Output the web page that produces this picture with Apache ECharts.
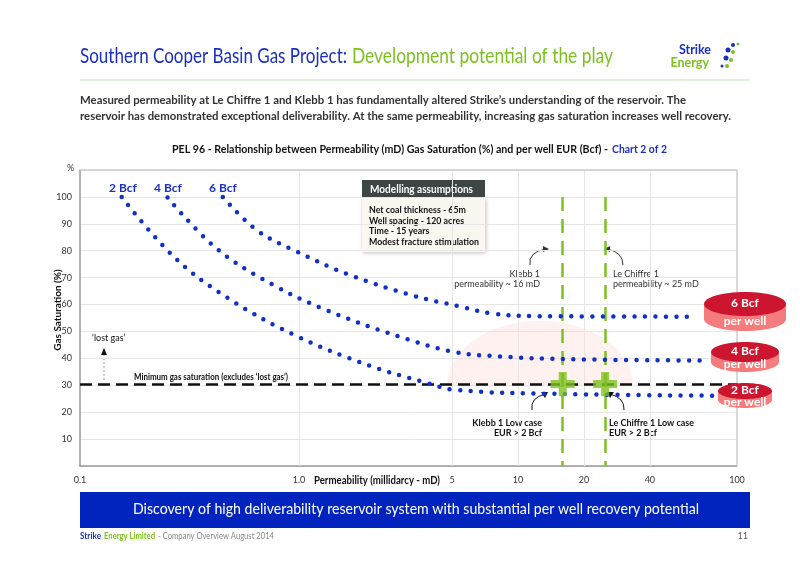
<!DOCTYPE html>
<html>
<head>
<meta charset="utf-8">
<script src="https://cdn.jsdelivr.net/npm/echarts@6/dist/echarts.min.js"></script>
<style>
  body { margin: 0; background: #fff; }
  #main { width: 800px; height: 566px; }
</style>
</head>
<body>
<div id="main"></div>
<script>
// curve key points: [permeability mD, gas saturation %]
const bcf2 = [[0.155, 100], [0.268, 77.8], [0.472, 62.5], [0.98, 48.2], [2.1, 37.3], [3.68, 31.3], [5.17, 28.3], [15, 26.8], [92, 26.1]];
const bcf4 = [[0.251, 99.8], [0.417, 81.1], [0.75, 67.6], [1.31, 58.2], [2.89, 48.0], [5.17, 42.3], [8.37, 40.7], [16.7, 39.7], [73, 39.2]];
const bcf6 = [[0.449, 100], [0.643, 87.6], [0.976, 79.7], [1.69, 71.1], [3.36, 63.2], [5.36, 59.4], [7.6, 56.7], [12.2, 55.7], [65, 55.5]];
const xTicks = [0.1, 1, 5, 10, 20, 40, 100];
const wells = [16, 25];          // Klebb 1, Le Chiffre 1
const minSat = 30.5;

const ff = 'Lato, "Open Sans", sans-serif';
const blue = '#1a2fc4';
const green = '#7dc11f';

const ctx = document.createElement('canvas').getContext('2d');
function fnt(size, bold) { return (bold ? 'bold ' : '') + size + 'px ' + ff; }

// text squeezed horizontally to the width it takes in the slide
function txt(x, y, text, size, color, bold, extra, width) {
  const el = { type: 'text', x: x, y: y, originX: 0,
    style: Object.assign({ text: text, fill: color, font: fnt(size, bold) }, extra || {}) };
  if (width) {
    ctx.font = fnt(size, bold);
    const w = Math.max(...text.split('\n').map(t => ctx.measureText(t).width));
    el.scaleX = width / w;
  }
  return el;
}

function dotted(name, data) {
  return {
    name: name, type: 'line', data: data, smooth: 0.4, symbol: 'none',
    lineStyle: { color: '#1030c8', width: 4.5, type: [0, 10.5], cap: 'round' },
    z: 5
  };
}

function cylinder(cx, top, rx, ry, h, label) {
  const lab = (y, t) => Object.assign(txt(cx, y, t, 12, '#ffffff', true, { align: 'center', verticalAlign: 'middle', opacity: 1 }), { z: 110 });
  return [
    { type: 'ellipse', z: 100, shape: { cx: cx, cy: top + h, rx: rx, ry: ry }, style: { fill: '#f47c7c' } },
    { type: 'rect', z: 100, shape: { x: cx - rx, y: top, width: 2 * rx, height: h }, style: { fill: '#f47c7c' } },
    { type: 'ellipse', z: 101, shape: { cx: cx, cy: top, rx: rx, ry: ry }, style: { fill: '#cc1630' } },
    lab(top - 1, label),
    lab(top + h + 2, 'per well')
  ];
}

const chart = echarts.init(document.getElementById('main'));
chart.setOption({
  animation: false,
  grid: { left: 80, right: 63, top: 170, bottom: 100 },
  xAxis: {
    type: 'log', min: 0.1, max: 100, logBase: 10,
    axisLine: { lineStyle: { color: '#999', width: 1.5 } },
    axisTick: { show: false },
    axisLabel: { customValues: xTicks, color: '#333', fontSize: 9, fontFamily: ff,
      formatter: v => (v === 1 ? '1.0' : String(v)), margin: 10 },
    splitLine: { show: false }
  },
  yAxis: {
    type: 'value', min: 0, max: 110, interval: 10,
    axisLine: { show: true, lineStyle: { color: '#999', width: 1.5 } },
    axisTick: { show: false },
    axisLabel: { color: '#333', fontSize: 9, fontFamily: ff, formatter: v => (v === 0 || v === 110 ? '' : v) },
    splitLine: { lineStyle: { color: '#e6e6e6' } }
  },
  series: [
    dotted('2 Bcf', bcf2),
    dotted('4 Bcf', bcf4),
    dotted('6 Bcf', bcf6),
    {
      type: 'line', data: [], silent: true,
      markLine: {
        symbol: 'none', silent: true, label: { show: false },
        data: [
          ...[1, 5, 10, 20, 40].map(v => ({ xAxis: v, lineStyle: { color: '#e6e6e6', type: 'solid', width: 1 } })),
          { xAxis: 100, lineStyle: { color: '#ccc', type: 'solid', width: 1.5 } },
          { yAxis: 110, lineStyle: { color: '#ccc', type: 'solid', width: 1.5 } },
          { yAxis: minSat, lineStyle: { color: '#111', type: [12, 6], width: 2.5 } },
          ...wells.map(v => [{ coord: [v, 100], lineStyle: { color: green, type: [14, 8], width: 2.5 } }, { coord: [v, 0] }])
        ]
      },
      z: 3
    },
    {
      type: 'scatter', data: wells.map(v => [v, minSat]),
      symbol: 'path://M2,0h2v2h2v2h-2v2h-2v-2h-2v-2h2z', symbolSize: 24,
      itemStyle: { color: green }, z: 8
    }
  ],
  graphic: [
    // header
    txt(80, 46, 'Southern Cooper Basin Gas Project:', 21, blue, false, null, 267),
    txt(352, 46, 'Development potential of the play', 21, green, false, null, 261),
    txt(711, 43, 'Strike', 12.5, blue, true, { align: 'right' }),
    txt(709, 56, 'Energy', 12.5, green, true, { align: 'right' }),
    ...[[733, 45, 2], [738, 44, 1.5], [728, 50, 2.5], [733, 52, 2], [726, 58, 2.5], [731, 60, 2], [722, 66, 1.5], [727, 66, 2]]
      .map((d, i) => ({ type: 'circle', shape: { cx: d[0], cy: d[1], r: d[2] }, style: { fill: i % 2 ? green : blue } })),
    { type: 'line', shape: { x1: 80, y1: 80, x2: 750, y2: 80 }, style: { stroke: '#e3efd6', lineWidth: 2 } },
    txt(80, 94, 'Measured permeability at Le Chiffre 1 and Klebb 1 has fundamentally altered Strike\u2019s understanding of the reservoir. The', 12, '#333', true, null, 606),
    txt(80, 110, 'reservoir has demonstrated exceptional deliverability. At the same permeability, increasing gas saturation increases well recovery.', 12, '#333', true, null, 651),
    txt(172, 144, 'PEL 96 - Relationship between Permeability (mD) Gas Saturation (%) and per well EUR (Bcf) -', 11, '#111', true, null, 436),
    txt(612, 144, 'Chart 2 of 2', 11, blue, true, null, 55),
    // axes names
    txt(67, 164, '%', 9, '#333'),
    { type: 'text', x: 58, y: 310, rotation: Math.PI / 2, style: { text: 'Gas Saturation (%)', fill: '#111', font: fnt(10, true), align: 'center', verticalAlign: 'middle' } },
    txt(314, 475, 'Permeability (millidarcy - mD)', 10.5, '#111', true, null, 126),
    // curve labels
    txt(109, 182, '2 Bcf', 12, blue, true),
    txt(154, 182, '4 Bcf', 12, blue, true),
    txt(209, 182, '6 Bcf', 12, blue, true),
    // pink zone
    { type: 'sector', shape: { cx: 540, cy: 386, r: 93, startAngle: Math.PI, endAngle: 2 * Math.PI }, scaleY: 0.7, originX: 540, originY: 386, style: { fill: 'rgba(250,200,190,0.25)' }, z: 1 },
    // modelling assumptions box
    { type: 'rect', shape: { x: 362, y: 198, width: 123, height: 54 }, style: { fill: '#faf7f0', shadowBlur: 4, shadowColor: 'rgba(0,0,0,0.25)', shadowOffsetX: 1, shadowOffsetY: 1 } },
    { type: 'rect', shape: { x: 362, y: 180, width: 123, height: 18 }, style: { fill: '#3e4545' } },
    txt(370, 184, 'Modelling assumptions', 11, '#fff', true, null, 103),
    txt(369, 205, 'Net coal thickness - 65m\nWell spacing - 120 acres\nTime - 15 years\nModest fracture stimulation', 9.5, '#111', true, { lineHeight: 10.5 }, 110),
    // annotations
    txt(540, 269, 'Klebb 1\npermeability ~ 16 mD', 9, '#333', false, { align: 'right', lineHeight: 10 }),
    txt(613, 269, 'Le Chiffre 1\npermeability ~ 25 mD', 9, '#333', false, { lineHeight: 10 }),
    txt(542, 418, 'Klebb 1 Low case\nEUR > 2 Bcf', 9, '#111', true, { align: 'right', lineHeight: 10 }),
    txt(609, 418, 'Le Chiffre 1 Low case\nEUR > 2 Bcf', 9, '#111', true, { lineHeight: 10 }),
    { type: 'bezierCurve', shape: { x1: 530, y1: 265, cpx1: 528, cpy1: 252, x2: 546, y2: 249 }, style: { stroke: '#333', lineWidth: 1 } },
    { type: 'polygon', shape: { points: [[549, 249], [543, 246], [543, 252]] }, style: { fill: '#333' } },
    { type: 'bezierCurve', shape: { x1: 623, y1: 265, cpx1: 623, cpy1: 252, x2: 607, y2: 249 }, style: { stroke: '#333', lineWidth: 1 } },
    { type: 'polygon', shape: { points: [[604, 249], [610, 246], [610, 252]] }, style: { fill: '#333' } },
    { type: 'bezierCurve', shape: { x1: 532, y1: 410, cpx1: 530, cpy1: 398, x2: 545, y2: 394 }, style: { stroke: '#111', lineWidth: 1 } },
    { type: 'polygon', shape: { points: [[548, 392], [541, 392], [545, 398]] }, style: { fill: '#111' } },
    { type: 'bezierCurve', shape: { x1: 624, y1: 410, cpx1: 625, cpy1: 398, x2: 610, y2: 394 }, style: { stroke: '#111', lineWidth: 1 } },
    { type: 'polygon', shape: { points: [[607, 392], [614, 392], [610, 398]] }, style: { fill: '#111' } },
    txt(92, 334, '\u2018lost gas\u2019', 9, '#111'),
    { type: 'line', shape: { x1: 104, y1: 380, x2: 104, y2: 354 }, style: { stroke: '#999', lineWidth: 1, lineDash: [2, 2] } },
    { type: 'polygon', shape: { points: [[104, 348], [101, 355], [107, 355]] }, style: { fill: '#111' } },
    txt(134, 373, 'Minimum gas saturation (excludes \u2018lost gas\u2019)', 9, '#111', true, null, 154),
    // cylinders
    ...cylinder(745, 304, 41, 12, 15, '6 Bcf'),
    ...cylinder(745, 352, 34, 10, 10, '4 Bcf'),
    ...cylinder(745, 391, 27, 8, 9, '2 Bcf'),
    // banner + footer
    { type: 'rect', shape: { x: 80, y: 492, width: 670, height: 36 }, style: { fill: '#0024bd' } },
    txt(133, 502, 'Discovery of high deliverability reservoir system with substantial per well recovery potential', 15, '#fff', false, null, 566),
    txt(80, 532, 'Strike', 9, blue, true, null, 21),
    txt(104, 532, 'Energy Limited', 9, green, true, null, 51),
    txt(158, 532, '- Company Overview August 2014', 9, '#888', false, null, 116),
    txt(748, 532, '11', 9, '#555', false, { align: 'right' })
  ]
});
</script>
</body>
</html>
